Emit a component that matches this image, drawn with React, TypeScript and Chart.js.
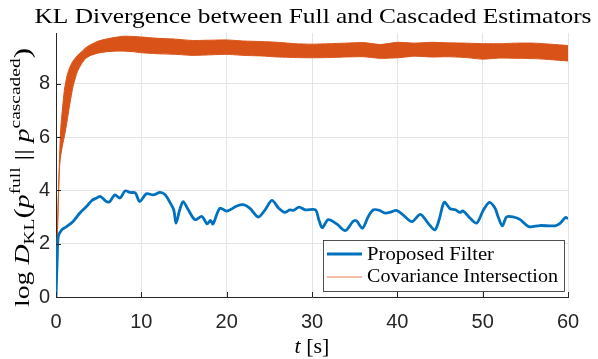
import React, { useEffect, useRef } from 'react';
import { Chart, registerables } from 'chart.js';
Chart.register(...registerables);

const TITLE = 'KL Divergence between Full and Cascaded Estimators';
const X_LABEL_VAR = 't';
const X_LABEL_UNIT = ' [s]';
const legendLabels = ['Proposed Filter', 'Covariance Intersection'];

const xTicks = [0, 10, 20, 30, 40, 50, 60];
const yTicks = [0, 2, 4, 6, 8];
const xMin = 0;
const xMax = 60;
const yMin = 0;
const yMax = 9.9;

// Proposed Filter (blue)
const proposedT = [0, 0.15, 0.27, 0.67, 1.25, 2.0, 2.8, 3.6, 4.2, 4.77, 5.2, 5.9, 6.3, 6.9, 7.5, 8.1, 8.7, 9.3, 9.8, 10.6, 11.4, 12.2, 12.8, 13.4, 13.8, 14.07, 14.5, 14.9, 15.5, 16.3, 17.1, 17.7, 18.1, 18.4, 19.2, 20.0, 21.2, 21.96, 22.7, 23.7, 24.5, 25.3, 26.1, 26.8, 27.4, 27.8, 28.5, 29.2, 30.4, 30.8, 31.2, 31.9, 32.9, 33.9, 34.8, 35.2, 35.9, 36.6, 37.2, 37.9, 38.5, 39.1, 39.9, 40.6, 41.7, 42.7, 43.6, 44.4, 44.9, 45.5, 46.2, 46.8, 47.35, 47.7, 48.5, 49.3, 50.1, 50.8, 51.45, 51.8, 52.3, 52.8, 53.6, 54.4, 55.4, 56.7, 58.5, 59.1, 59.7, 60];
const proposedV = [0, 1.5, 2.27, 2.52, 2.64, 2.83, 3.15, 3.4, 3.62, 3.71, 3.77, 3.58, 3.58, 3.83, 3.71, 3.98, 3.92, 3.9, 3.58, 3.87, 3.83, 3.92, 3.83, 3.52, 3.27, 2.77, 3.27, 3.58, 3.27, 2.9, 3.02, 2.74, 2.87, 2.74, 3.33, 3.22, 3.41, 3.46, 3.33, 3.0, 3.27, 3.62, 3.33, 3.17, 3.27, 3.25, 3.37, 3.27, 3.27, 2.9, 2.6, 2.9, 2.74, 2.49, 2.83, 2.86, 2.58, 3.02, 3.27, 3.25, 3.15, 3.17, 3.25, 3.1, 2.83, 3.1, 2.77, 2.52, 2.9, 3.55, 3.31, 3.27, 3.17, 3.23, 2.96, 2.77, 3.27, 3.55, 3.33, 3.02, 2.67, 3.0, 3.0, 2.9, 2.64, 2.68, 2.67, 2.77, 2.98, 2.94];

// Covariance Intersection (orange band: envelope of a fast oscillation)
const ciT = [0, 0.1, 0.2, 0.3, 0.4, 0.5, 0.6, 0.8, 1.0, 1.3, 1.6, 2.0, 2.5, 3.0, 3.5, 4.0, 5.0, 6.0, 7.0, 8.0, 9.0, 10, 12, 14, 16, 18, 20, 22, 24, 26, 28, 30, 32, 34, 36, 38, 40, 42, 44, 46, 48, 50, 52, 54, 56, 58, 60];
const ciUpper = [0, 1.5, 2.8, 4.0, 5.1, 5.95, 6.5, 7.2, 7.8, 8.3, 8.6, 8.85, 9.05, 9.2, 9.35, 9.45, 9.6, 9.68, 9.74, 9.78, 9.77, 9.75, 9.7, 9.67, 9.62, 9.63, 9.64, 9.6, 9.58, 9.55, 9.5, 9.48, 9.5, 9.52, 9.54, 9.47, 9.55, 9.52, 9.55, 9.53, 9.52, 9.5, 9.5, 9.52, 9.52, 9.48, 9.43];
const ciLower = [0, 1.5, 2.8, 3.9, 4.8, 5.15, 5.4, 5.75, 6.05, 6.6, 7.2, 7.9, 8.45, 8.75, 8.95, 9.05, 9.15, 9.2, 9.22, 9.22, 9.2, 9.16, 9.12, 9.1, 9.06, 9.08, 9.1, 9.06, 9.04, 9.0, 8.98, 8.97, 8.98, 9.0, 9.01, 8.95, 8.97, 9.03, 9.0, 9.01, 8.98, 8.92, 8.96, 8.95, 8.94, 8.9, 8.85];

const BLUE = '#0072BD';
const RED = '#D95319';
const RED_LEGEND = '#eea68a';
const AXIS = '#262626';
const GRID = '#e4e4e4';
const SERIF = '"Liberation Serif", "DejaVu Serif", serif';
const SANS = '"Liberation Sans", Arial, sans-serif';

type Seg = { t: string; it?: boolean; s?: number; dy?: number };

function drawRich(
  ctx: CanvasRenderingContext2D,
  segs: Seg[],
  size: number,
  x: number,
  y: number,
  opts: { align: 'center' | 'left'; width?: number; rot?: boolean; color?: string }
) {
  const fonts = segs.map((g) => `${g.it ? 'italic ' : ''}${(size * (g.s ?? 1)).toFixed(2)}px ${SERIF}`);
  let total = 0;
  const ws = segs.map((g, i) => {
    ctx.font = fonts[i];
    const w = ctx.measureText(g.t).width;
    total += w;
    return w;
  });
  const sx = opts.width ? opts.width / total : 1;
  ctx.save();
  ctx.translate(x, y);
  if (opts.rot) ctx.rotate(-Math.PI / 2);
  ctx.scale(sx, 1);
  ctx.fillStyle = opts.color ?? '#000';
  ctx.textAlign = 'left';
  ctx.textBaseline = 'alphabetic';
  let cx = opts.align === 'center' ? -total / 2 : 0;
  segs.forEach((g, i) => {
    ctx.font = fonts[i];
    ctx.fillText(g.t, cx, (g.dy ?? 0) * size);
    cx += ws[i];
  });
  ctx.restore();
}

const overlayPlugin = {
  id: 'overlay',
  afterDraw(chart: any) {
    const ctx: CanvasRenderingContext2D = chart.ctx;
    const { left, right, top, bottom } = chart.chartArea;
    const xs = chart.scales.x;
    const ys = chart.scales.y;

    // inward tick marks
    ctx.save();
    ctx.strokeStyle = AXIS;
    ctx.lineWidth = 1;
    xTicks.forEach((v) => {
      const px = Math.round(xs.getPixelForValue(v)) + 0.5;
      ctx.beginPath();
      ctx.moveTo(px, bottom);
      ctx.lineTo(px, bottom - 5);
      ctx.stroke();
    });
    yTicks.forEach((v) => {
      const py = Math.round(ys.getPixelForValue(v)) + 0.5;
      ctx.beginPath();
      ctx.moveTo(left, py);
      ctx.lineTo(left + 5, py);
      ctx.stroke();
    });
    ctx.restore();

    // legend
    const bx = right - 245;
    const by = bottom - 57;
    const bw = 241;
    const bh = 51;
    ctx.save();
    ctx.fillStyle = '#fff';
    ctx.fillRect(bx, by, bw, bh);
    ctx.strokeStyle = AXIS;
    ctx.lineWidth = 0.8;
    ctx.strokeRect(bx + 0.5, by + 0.5, bw, bh);
    ctx.lineCap = 'butt';
    ctx.strokeStyle = BLUE;
    ctx.lineWidth = 2.8;
    ctx.beginPath();
    ctx.moveTo(bx + 4, by + 14);
    ctx.lineTo(bx + 39, by + 14);
    ctx.stroke();
    ctx.strokeStyle = RED_LEGEND;
    ctx.lineWidth = 1.3;
    ctx.beginPath();
    ctx.moveTo(bx + 4, by + 37);
    ctx.lineTo(bx + 39, by + 37);
    ctx.stroke();
    ctx.restore();
    drawRich(ctx, [{ t: legendLabels[0] }], 19, bx + 44, by + 19.5, { align: 'left', width: 127 });
    drawRich(ctx, [{ t: legendLabels[1] }], 19, bx + 44, by + 42, { align: 'left', width: 191 });

    // title
    drawRich(ctx, [{ t: TITLE }], 21.5, (left + right) / 2 + 1, 23, { align: 'center', width: 557 });

    // x label
    drawRich(ctx, [{ t: X_LABEL_VAR, it: true }, { t: X_LABEL_UNIT }], 22, (left + right) / 2, 353, { align: 'center' });

    // y label
    drawRich(
      ctx,
      [
        { t: 'log ' },
        { t: 'D', it: true },
        { t: 'KL', s: 0.7, dy: 0.22 },
        { t: '(', s: 1.12, dy: 0.04 },
        { t: 'p', it: true },
        { t: 'full', s: 0.7, dy: -0.42 },
        { t: ' || ' },
        { t: 'p', it: true },
        { t: 'cascaded', s: 0.7, dy: -0.42 },
        { t: ')', s: 1.12, dy: 0.04 },
      ],
      21,
      29,
      177.5,
      { align: 'center', width: 259, rot: true }
    );
  },
};

export default function App() {
  const ref = useRef<HTMLCanvasElement>(null);
  useEffect(() => {
    if (!ref.current) return;
    const chart = new Chart(ref.current, {
      type: 'line',
      data: {
        datasets: [
          {
            label: 'ciLower',
            data: ciT.map((t, i) => ({ x: t, y: ciLower[i] })),
            borderColor: RED,
            borderWidth: 1,
            pointRadius: 0,
            fill: false,
            tension: 0.2,
            order: 2,
          },
          {
            label: legendLabels[1],
            data: ciT.map((t, i) => ({ x: t, y: ciUpper[i] })),
            borderColor: RED,
            backgroundColor: RED,
            borderWidth: 1,
            pointRadius: 0,
            fill: '-1',
            tension: 0.2,
            order: 1,
          },
          {
            label: legendLabels[0],
            data: proposedT.map((t, i) => ({ x: t, y: proposedV[i] })),
            borderColor: BLUE,
            borderWidth: 2.8,
            pointRadius: 0,
            fill: false,
            tension: 0.3,
            order: 0,
          },
        ],
      },
      options: {
        animation: false,
        responsive: false,
        devicePixelRatio: 1,
        layout: { padding: { top: 33, right: 30, left: 0, bottom: 0 } },
        plugins: {
          legend: { display: false },
          title: { display: false },
          tooltip: { enabled: false },
        },
        scales: {
          x: {
            type: 'linear',
            min: xMin,
            max: xMax,
            afterBuildTicks: (s: any) => {
              s.ticks = xTicks.map((v) => ({ value: v }));
            },
            afterFit: (s: any) => {
              s.height = 62;
            },
            grid: { color: GRID, drawTicks: false, lineWidth: 1 },
            border: { color: AXIS, width: 1 },
            ticks: {
              color: AXIS,
              font: { family: SANS, size: 20 },
              padding: 13,
              maxRotation: 0,
            },
          },
          y: {
            type: 'linear',
            min: yMin,
            max: yMax,
            afterBuildTicks: (s: any) => {
              s.ticks = yTicks.map((v) => ({ value: v }));
            },
            afterFit: (s: any) => {
              s.width = 56;
            },
            grid: { color: GRID, drawTicks: false, lineWidth: 1 },
            border: { color: AXIS, width: 1 },
            ticks: {
              color: AXIS,
              font: { family: SANS, size: 20 },
              padding: 6,
            },
          },
        },
      },
      plugins: [overlayPlugin],
    });
    return () => chart.destroy();
  }, []);
  return (
    <div style={{ position: 'fixed', left: 0, top: 0, width: 598, height: 359, background: '#fff' }}>
      <canvas ref={ref} width={598} height={359} style={{ width: 598, height: 359, display: 'block' }} />
    </div>
  );
}
